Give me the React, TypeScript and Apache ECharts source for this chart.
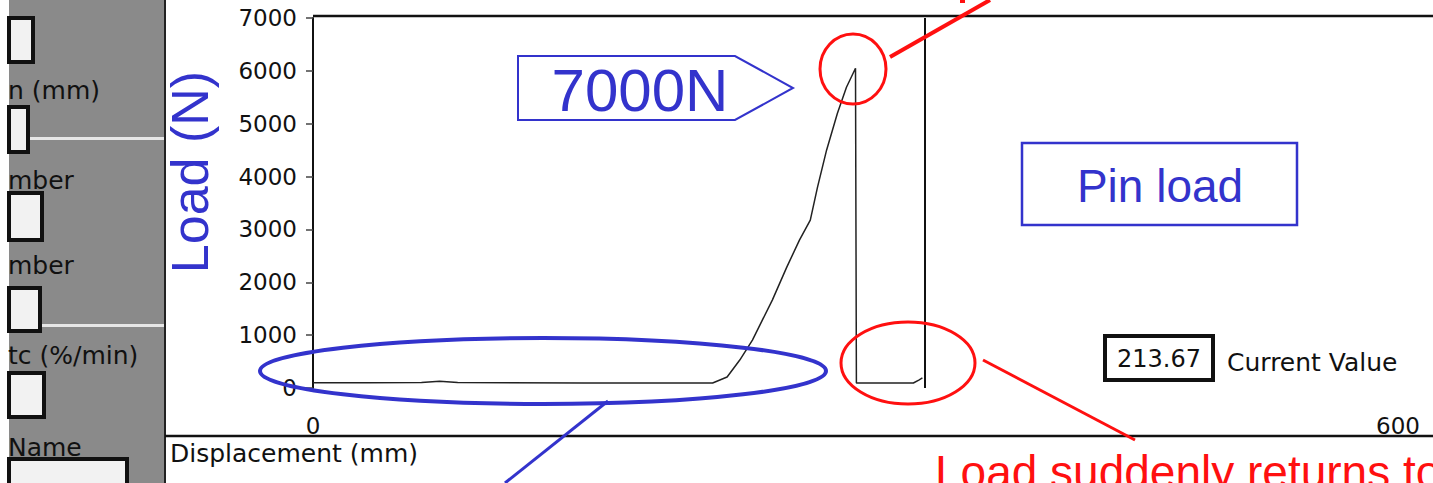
import React, { useEffect, useRef } from "react";
import * as echarts from "echarts";

// Data read from the scanned load–displacement trace
const displacement = [0, 30, 60, 70, 80, 150, 221, 229, 236, 243, 254, 262, 269, 275, 279, 284, 290, 295, 300, 300.5, 332, 335, 337];
const load = [100, 100, 105, 130, 105, 95, 95, 208, 529, 907, 1663, 2287, 2798, 3176, 3800, 4499, 5198, 5690, 6049, 95, 95, 150, 190];
const cursorX = [338.5];
const yTicks = { min: 0, max: 7000, interval: 1000 };
const xTicks = { min: 0, max: 600, interval: 600 };

const panelLabels = [
  { text: "n (mm)", y: 90 },
  { text: "mber", y: 180 },
  { text: "mber", y: 265 },
  { text: "tc (%/min)", y: 355 },
  { text: "Name", y: 447 },
];
const panelBoxes = [
  [9, 18, 24, 44],
  [9, 107, 19, 45],
  [9, 193, 33, 47],
  [9, 288, 31, 43],
  [9, 373, 35, 44],
  [9, 459, 118, 30],
];

const BLUE = "#3333cc";
const RED = "#ff1010";

export default function App() {
  const ref = useRef<HTMLDivElement>(null);
  useEffect(() => {
    document.body.style.margin = "0";
    const chart = echarts.init(ref.current!, null, { renderer: "svg" });
    const seriesData = displacement.map((x, i) => [x, load[i]]);
    const graphic: any[] = [];
    // left scanned form panel
    graphic.push({ type: "rect", shape: { x: 9, y: 0, width: 156, height: 483 }, style: { fill: "#8a8a8a" }, z: 1 });
    graphic.push({ type: "rect", shape: { x: 30, y: 137, width: 135, height: 3 }, style: { fill: "#e6e6e6" }, z: 2 });
    graphic.push({ type: "rect", shape: { x: 40, y: 324, width: 125, height: 3 }, style: { fill: "#e6e6e6" }, z: 2 });
    panelBoxes.forEach(([x, y, w, h]) => {
      graphic.push({ type: "rect", shape: { x, y, width: w, height: h }, style: { fill: "#f2f2f2", stroke: "#111", lineWidth: 4 }, z: 3 });
    });
    panelLabels.forEach((l) => {
      graphic.push({ type: "text", x: 8, y: l.y, style: { text: l.text, font: "25px 'DejaVu Sans'", fill: "#111", textVerticalAlign: "middle" }, z: 3 });
    });
    graphic.push({ type: "line", shape: { x1: 165, y1: 0, x2: 165, y2: 483 }, style: { stroke: "#222", lineWidth: 2 }, z: 4 });
    // frame lines
    graphic.push({ type: "line", shape: { x1: 313, y1: 16, x2: 1433, y2: 16 }, style: { stroke: "#111", lineWidth: 2.5 }, z: 4 });
    graphic.push({ type: "line", shape: { x1: 165, y1: 436, x2: 1433, y2: 436 }, style: { stroke: "#111", lineWidth: 2.5 }, z: 4 });
    graphic.push({ type: "text", x: 170, y: 453, style: { text: "Displacement (mm)", font: "25px 'DejaVu Sans'", fill: "#111", textVerticalAlign: "middle" }, z: 4 });
    // current value box
    graphic.push({ type: "rect", shape: { x: 1105, y: 336, width: 108, height: 44 }, style: { fill: "#fff", stroke: "#111", lineWidth: 4 }, z: 4 });
    graphic.push({ type: "text", x: 1159, y: 359, style: { text: "213.67", font: "24px 'DejaVu Sans'", fill: "#111", textAlign: "center", textVerticalAlign: "middle" }, z: 5 });
    graphic.push({ type: "text", x: 1227, y: 362, style: { text: "Current Value", font: "25px 'DejaVu Sans'", fill: "#111", textVerticalAlign: "middle" }, z: 5 });
    // blue annotations
    graphic.push({ type: "text", x: 190, y: 172, rotation: Math.PI / 2, style: { text: "Load (N)", font: "52px 'Liberation Sans'", fill: BLUE, textAlign: "center", textVerticalAlign: "middle" }, z: 6 });
    graphic.push({ type: "polygon", shape: { points: [[518, 56], [735, 56], [793, 88], [735, 120], [518, 120]] }, style: { fill: "#fff", stroke: BLUE, lineWidth: 2 }, z: 6 });
    graphic.push({ type: "text", x: 640, y: 90, style: { text: "7000N", font: "60px 'Liberation Sans'", fill: BLUE, textAlign: "center", textVerticalAlign: "middle" }, z: 7 });
    graphic.push({ type: "rect", shape: { x: 1022, y: 143, width: 275, height: 82 }, style: { fill: "#fff", stroke: BLUE, lineWidth: 2.5 }, z: 6 });
    graphic.push({ type: "text", x: 1160, y: 186, style: { text: "Pin load", font: "46px 'Liberation Sans'", fill: BLUE, textAlign: "center", textVerticalAlign: "middle" }, z: 7 });
    graphic.push({ type: "ellipse", shape: { cx: 543, cy: 371, rx: 283, ry: 33 }, style: { fill: "none", stroke: BLUE, lineWidth: 4 }, z: 6 });
    graphic.push({ type: "line", shape: { x1: 608, y1: 401, x2: 505, y2: 483 }, style: { stroke: BLUE, lineWidth: 3 }, z: 6 });
    // red annotations
    graphic.push({ type: "ellipse", shape: { cx: 853, cy: 69, rx: 33, ry: 35 }, style: { fill: "none", stroke: RED, lineWidth: 3 }, z: 6 });
    graphic.push({ type: "line", shape: { x1: 890, y1: 57, x2: 990, y2: 0 }, style: { stroke: RED, lineWidth: 4 }, z: 6 });
    graphic.push({ type: "ellipse", shape: { cx: 908, cy: 363, rx: 67, ry: 41 }, style: { fill: "none", stroke: RED, lineWidth: 3 }, z: 6 });
    graphic.push({ type: "line", shape: { x1: 983, y1: 360, x2: 1135, y2: 440 }, style: { stroke: RED, lineWidth: 3 }, z: 6 });
    graphic.push({ type: "rect", shape: { x: 960, y: 0, width: 5, height: 3 }, style: { fill: RED }, z: 6 });
    graphic.push({ type: "text", x: 935, y: 449, style: { text: "Load suddenly returns to zero", font: "46px 'Liberation Sans'", fill: RED, textVerticalAlign: "top" }, z: 6 });

    chart.setOption({
      animation: false,
      backgroundColor: "#ffffff",
      grid: { left: 313, right: 35, top: 18, bottom: 95, containLabel: false },
      xAxis: {
        type: "value",
        ...xTicks,
        axisLine: { show: false },
        axisTick: { show: false },
        splitLine: { show: false },
        axisLabel: { margin: 26, fontSize: 23, fontFamily: "DejaVu Sans", color: "#111", formatter: (v: number) => String(v) },
      },
      yAxis: {
        type: "value",
        ...yTicks,
        axisLine: { show: true, lineStyle: { color: "#111", width: 2 } },
        axisTick: { show: true, length: 7, lineStyle: { color: "#444", width: 1.5 } },
        splitLine: { show: false },
        axisLabel: { margin: 16, fontSize: 23, fontFamily: "DejaVu Sans", color: "#111", formatter: (v: number) => String(v) },
      },
      series: [
        {
          type: "line",
          data: seriesData,
          showSymbol: false,
          lineStyle: { color: "#222", width: 1.5 },
          markLine: {
            silent: true,
            symbol: "none",
            label: { show: false },
            lineStyle: { color: "#111", width: 2, type: "solid" },
            data: cursorX.map((x) => ({ xAxis: x })),
          },
        },
      ],
      graphic,
    });
    return () => chart.dispose();
  }, []);
  return <div ref={ref} style={{ width: 1433, height: 483 }} />;
}
